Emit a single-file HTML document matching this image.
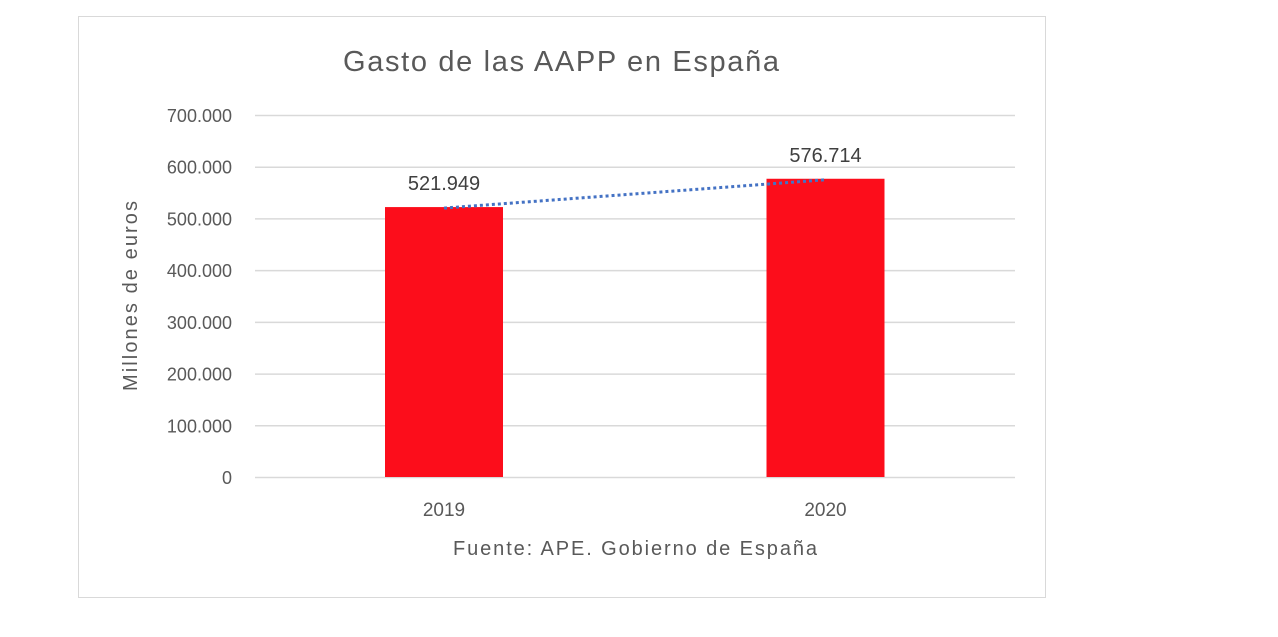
<!DOCTYPE html>
<html><head><meta charset="utf-8"><style>
body{margin:0;background:#fff;width:1278px;height:632px;overflow:hidden;font-family:"Liberation Sans",sans-serif;}
</style></head><body>
<svg width="1278" height="632" xmlns="http://www.w3.org/2000/svg">
<rect x="78.5" y="16.5" width="967" height="581" fill="#fff" stroke="#d9d9d9"/>
<text x="561" y="71" text-anchor="middle" font-size="29" fill="#595959" textLength="436" lengthAdjust="spacing">Gasto de las AAPP en España</text>
<g id="grid"></g>
<g id="bars"></g>
<text transform="translate(137,296) rotate(-90)" text-anchor="middle" font-size="20" fill="#595959" textLength="190" lengthAdjust="spacing">Millones de euros</text>
<text x="635" y="555" text-anchor="middle" font-size="20" fill="#595959" textLength="364" lengthAdjust="spacing">Fuente: APE. Gobierno de España</text>
</svg>
<script>
const categories=["2019","2020"];
const values=[521949,576714];
const valueLabels=["521.949","576.714"];
const ticks=[0,100000,200000,300000,400000,500000,600000,700000];
const tickLabels=["0","100.000","200.000","300.000","400.000","500.000","600.000","700.000"];
const NS="http://www.w3.org/2000/svg";
const y=v=>477-v*(362/700000);
const x=i=>444+i*381.5;
const g=document.getElementById('grid'),b=document.getElementById('bars');
function mk(tag,attrs,parent,txt){const e=document.createElementNS(NS,tag);for(const k in attrs)e.setAttribute(k,attrs[k]);if(txt!==undefined)e.textContent=txt;parent.appendChild(e);return e;}
ticks.forEach((t,i)=>{
 const l=mk('line',{x1:255,x2:1015,y1:y(t)+0.5,y2:y(t)+0.5,stroke:'#d9d9d9','stroke-width':1.5},g);
 
 
 const tx=mk('text',{x:232,y:y(t)+7,'text-anchor':'end','font-size':18,fill:'#595959'},g,tickLabels[i]);
 
 
});
values.forEach((v,i)=>{
 const r=mk('rect',{x:x(i)-59,y:y(v),width:118,height:477-y(v),fill:'#fc0d1b'},b);
 
 
 const lt=mk('text',{x:x(i),y:y(v)-17,'text-anchor':'middle','font-size':20,fill:'#404040'},b,valueLabels[i]);
 
 
 const ct=mk('text',{x:x(i),y:516,'text-anchor':'middle','font-size':19,fill:'#595959'},b,categories[i]);
 
 
});
const tl=mk('line',{x1:x(0),y1:y(values[0])+1,x2:x(1),y2:y(values[1])+1,stroke:'#4472c4','stroke-width':3,'stroke-dasharray':'3 3'},b);


</script>
</body></html>
